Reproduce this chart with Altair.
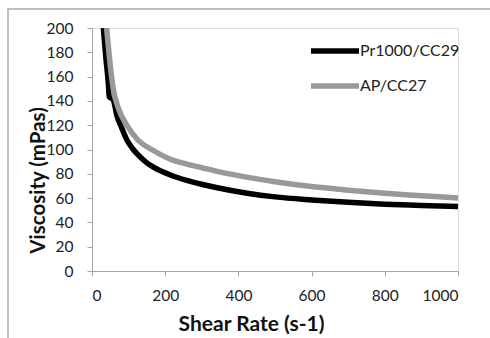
import altair as alt
import pandas as pd

# Pr1000/CC29 (black)
black_x = [31, 38, 45, 47, 58, 68, 81, 95, 113, 126, 150, 168, 214, 259, 305, 342, 424, 500, 600, 700, 800, 900, 1000]
black_y = [200, 175, 153, 143.5, 141, 128, 118, 108, 100, 95.5, 89, 85.5, 79, 74.5, 71, 68.5, 64, 61, 58.5, 56.5, 55, 54, 53]

# AP/CC27 (gray)
gray_x = [40, 49, 58, 72, 95, 125, 163, 214, 259, 300, 342, 400, 500, 600, 700, 800, 900, 1000]
gray_y = [200, 172, 150, 134, 120, 108, 100, 92, 88, 85, 82, 78.5, 73.5, 69.5, 66.5, 64, 62, 60]

series = ["Pr1000/CC29", "AP/CC27"]
colors = ["#000000", "#999999"]
x_ticks = [0, 200, 400, 600, 800, 1000]
y_ticks = [0, 20, 40, 60, 80, 100, 120, 140, 160, 180, 200]

df = pd.concat([
    pd.DataFrame({"x": black_x, "y": black_y, "s": series[0], "o": 0}),
    pd.DataFrame({"x": gray_x, "y": gray_y, "s": series[1], "o": 1}),
])

FONT = "Lato"
AX = "#a6a6a6"

lines = alt.Chart(df).mark_line(strokeWidth=5.5, clip=True, strokeJoin="round",
                                interpolate="monotone").encode(
    x=alt.X("x:Q", scale=alt.Scale(domain=[0, 1000], nice=False),
            axis=alt.Axis(values=x_ticks, format="d", title="Shear Rate (s-1)", grid=False,
                          domainColor=AX, tickColor=AX, tickSize=5, labelPadding=12,
                          labelFont=FONT, labelFontSize=15.5, labelColor="#222",
                          titleFont=FONT, titleFontSize=21, titleFontWeight="bold",
                          titleColor="#111", titleX=159, titleY=59,
                          titleBaseline="alphabetic", titleAlign="center")),
    y=alt.Y("y:Q", scale=alt.Scale(domain=[0, 200], nice=False),
            axis=alt.Axis(values=y_ticks, title="Viscosity (mPas)", grid=False,
                          domainColor=AX, tickColor=AX, tickSize=5, labelPadding=14,
                          labelFont=FONT, labelFontSize=15.5, labelColor="#222",
                          titleFont=FONT, titleFontSize=20.5, titleFontWeight="bold",
                          titleColor="#111", titleX=-48, titleY=152, titleAngle=270,
                          titleBaseline="alphabetic", titleAlign="center")),
    color=alt.Color("s:N", scale=alt.Scale(domain=series, range=colors),
                    legend=alt.Legend(orient="none", legendX=228, legendY=8, title=None,
                                      symbolType="M-2,0H2", symbolSize=576,
                                      symbolStrokeWidth=5.5, labelOffset=10,
                                      labelFont=FONT, labelFontSize=16, labelColor="#222",
                                      rowPadding=9, padding=0)),
    order="o:Q",
    detail="s:N",
)

frame = alt.Chart(pd.DataFrame({"a": [0]})).mark_rect(
    fill=None, stroke="#aaaaaa", strokeWidth=1.5
).encode(x=alt.value(-84), x2=alt.value(420), y=alt.value(-19), y2=alt.value(330))

chart = alt.layer(frame, lines).properties(
    width=366, height=243,
    padding={"left": 92, "top": 28, "right": 32, "bottom": 67},
    autosize=alt.AutoSizeParams(type="none"),
).configure_view(stroke=None).configure(background="white")

chart.save("out.html", embed_options={"renderer": "svg", "actions": False})
